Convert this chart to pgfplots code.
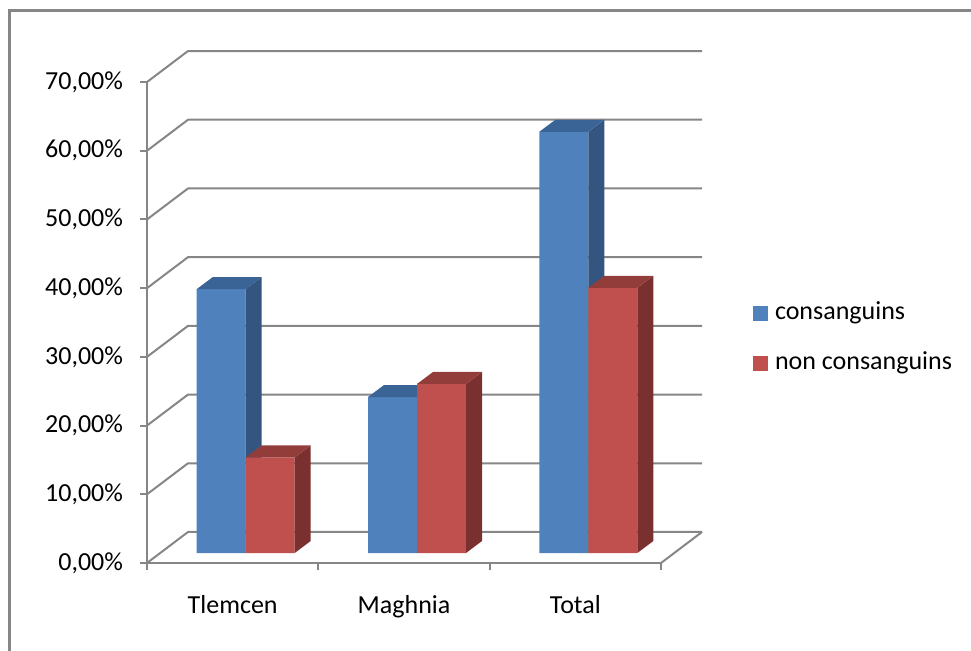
\documentclass[border=0pt]{standalone}
\usepackage{pgfplots}
\pgfplotsset{compat=1.18}
\usepackage{fontspec}
\setmainfont{Carlito}
\definecolor{gridgray}{RGB}{134,134,134}
\definecolor{bfront}{RGB}{79,129,189}
\definecolor{bside}{RGB}{52,85,128}
\definecolor{btop}{RGB}{59,100,150}
\definecolor{rfront}{RGB}{192,80,77}
\definecolor{rside}{RGB}{122,48,46}
\definecolor{rtop}{RGB}{147,61,58}
\begin{document}
\begin{tikzpicture}[font=\fontsize{19.5pt}{23pt}\selectfont]
\useasboundingbox (-110.25pt,-65.25pt) rectangle (618pt,422.25pt);
\draw[gridgray, line width=2.25pt] (-103.125pt,414.375pt) rectangle (640pt,-90pt);
\begin{axis}[
  at={(0pt,0pt)}, anchor=origin,
  x=0.75pt, y=5.15325pt,
  xmin=0, xmax=514, ymin=0, ymax=70,
  clip=false,
  axis lines*=left,
  axis line style={-, draw=gridgray, line width=1.5pt},
  tick align=outside,
  major tick length=5.25pt,
  tick style={draw=gridgray, line width=1.5pt},
  ytick={0,10,20,30,40,50,60,70},
  yticklabels={{0,00\%},{10,00\%},{20,00\%},{30,00\%},{40,00\%},{50,00\%},{60,00\%},{70,00\%}},
  xtick={0,171.33,342.67,514},
  x tick label as interval,
  xticklabels={Tlemcen,Maghnia,Total},
  tick label style={font=\fontsize{19.5pt}{23pt}\selectfont},
  yticklabel style={xshift=-9.25pt},
  xticklabel style={yshift=-15.25pt},
  legend style={at={(axis cs:606,38.2)}, anchor=north west, draw=none, fill=none,
    inner sep=0pt, outer sep=0pt, row sep=19.5pt, column sep=5.25pt,
    nodes={inner sep=0pt, text height=14pt, text depth=4pt},
    font=\fontsize{19.5pt}{23pt}\selectfont},
  legend cell align=left,
  legend image code/.code={\fill (0pt,-6.1pt) rectangle (11.25pt,5.1pt);},
]
\addlegendimage{fill=bfront, draw=none}
\addlegendentry{consanguins}
\addlegendimage{fill=rfront, draw=none}
\addlegendentry{non consanguins}

% back wall gridlines with side-wall diagonals
\addplot[draw=gridgray, line width=1.5pt, forget plot] coordinates {(0,0) (41,4.512) (555,4.512)};
\addplot[draw=gridgray, line width=1.5pt, forget plot] coordinates {(0,10) (41,14.512) (555,14.512)};
\addplot[draw=gridgray, line width=1.5pt, forget plot] coordinates {(0,20) (41,24.512) (555,24.512)};
\addplot[draw=gridgray, line width=1.5pt, forget plot] coordinates {(0,30) (41,34.512) (555,34.512)};
\addplot[draw=gridgray, line width=1.5pt, forget plot] coordinates {(0,40) (41,44.512) (555,44.512)};
\addplot[draw=gridgray, line width=1.5pt, forget plot] coordinates {(0,50) (41,54.512) (555,54.512)};
\addplot[draw=gridgray, line width=1.5pt, forget plot] coordinates {(0,60) (41,64.512) (555,64.512)};
\addplot[draw=gridgray, line width=1.5pt, forget plot] coordinates {(0,70) (41,74.512) (555,74.512)};
\addplot[draw=gridgray, line width=1.5pt, forget plot] coordinates {(514,0) (555,4.512)};

% consanguins
\addplot[ybar, bar width=36.75pt, bar shift=-18.375pt, fill=bfront, draw=none, xshift=9.75pt, yshift=7.5pt, forget plot]
  coordinates {(85.67,38.4) (257,22.7) (428.33,61.3)};
\addplot[fill=bside, draw=none, xshift=9.75pt, yshift=7.5pt, forget plot] coordinates {(85.67,0) (101.67,1.746) (101.67,40.146) (85.67,38.4)};
\addplot[fill=bside, draw=none, xshift=9.75pt, yshift=7.5pt, forget plot] coordinates {(257,0) (273,1.746) (273,24.446) (257,22.7)};
\addplot[fill=bside, draw=none, xshift=9.75pt, yshift=7.5pt, forget plot] coordinates {(428.33,0) (444.33,1.746) (444.33,63.046) (428.33,61.3)};
\addplot[fill=btop, draw=none, xshift=9.75pt, yshift=7.5pt, forget plot] coordinates {(36.67,38.4) (85.67,38.4) (101.67,40.146) (52.67,40.146)};
\addplot[fill=btop, draw=none, xshift=9.75pt, yshift=7.5pt, forget plot] coordinates {(208,22.7) (257,22.7) (273,24.446) (224,24.446)};
\addplot[fill=btop, draw=none, xshift=9.75pt, yshift=7.5pt, forget plot] coordinates {(379.33,61.3) (428.33,61.3) (444.33,63.046) (395.33,63.046)};

% non consanguins
\addplot[ybar, bar width=36.75pt, bar shift=18.375pt, fill=rfront, draw=none, xshift=9.75pt, yshift=7.5pt, forget plot]
  coordinates {(85.67,13.9) (257,24.6) (428.33,38.6)};
\addplot[fill=rside, draw=none, xshift=9.75pt, yshift=7.5pt, forget plot] coordinates {(134.67,0) (150.67,1.746) (150.67,15.646) (134.67,13.9)};
\addplot[fill=rside, draw=none, xshift=9.75pt, yshift=7.5pt, forget plot] coordinates {(306,0) (322,1.746) (322,26.346) (306,24.6)};
\addplot[fill=rside, draw=none, xshift=9.75pt, yshift=7.5pt, forget plot] coordinates {(477.33,0) (493.33,1.746) (493.33,40.346) (477.33,38.6)};
\addplot[fill=rtop, draw=none, xshift=9.75pt, yshift=7.5pt, forget plot] coordinates {(85.67,13.9) (134.67,13.9) (150.67,15.646) (101.67,15.646)};
\addplot[fill=rtop, draw=none, xshift=9.75pt, yshift=7.5pt, forget plot] coordinates {(257,24.6) (306,24.6) (322,26.346) (273,26.346)};
\addplot[fill=rtop, draw=none, xshift=9.75pt, yshift=7.5pt, forget plot] coordinates {(428.33,38.6) (477.33,38.6) (493.33,40.346) (444.33,40.346)};
\end{axis}
\end{tikzpicture}
\end{document}
